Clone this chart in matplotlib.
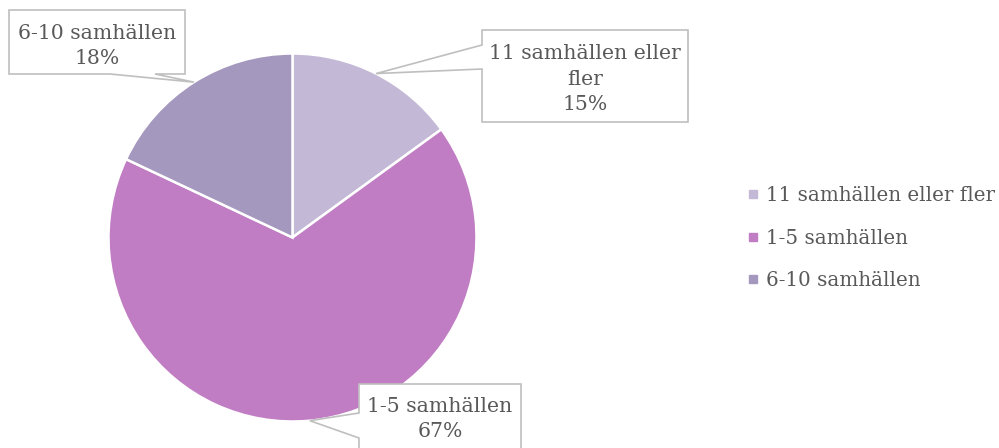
import numpy as np
import matplotlib.pyplot as plt
from matplotlib.patches import Polygon
from matplotlib.lines import Line2D

# data
categories = ['11 samhällen eller fler', '1-5 samhällen', '6-10 samhällen']
shares = [15, 67, 18]
colors = ['#c3b9d6', '#c07dc3', '#a598be']

W, H = 999, 448
CX, CY, R = 292.5, 237.5, 184
TXT = '#595959'
EDGE = '#bfbfbf'
FS = 14.7

plt.rcParams['font.family'] = ['DejaVu Serif']

fig = plt.figure(figsize=(W / 100, H / 100), dpi=100)
ax = fig.add_axes([0, 0, 1, 1])


def fy(y):
    # pixel row (from top) -> axis y
    return H - y


wedges, _ = ax.pie(shares, colors=colors, startangle=90, counterclock=False,
                   center=(CX, fy(CY)), radius=R,
                   wedgeprops=dict(edgecolor='white', linewidth=1.8))
ax.set_xlim(0, W)
ax.set_ylim(0, H)
ax.set_aspect('auto')
ax.axis('off')

# mid angle of each slice, used as callout tip on the rim
cum = np.cumsum([0] + shares)
mids = 90 - 360 * (cum[:-1] + cum[1:]) / 2 / 100
tips = [(CX + R * np.cos(np.radians(a)), CY - R * np.sin(np.radians(a))) for a in mids]

# callout boxes: (left, top, right, bottom), pointer side, pointer base span, text centre
boxes = [
    ((482, 30, 688, 122), 'left', (45, 69), (585, 79), '11 samhällen eller\nfler\n15%'),
    ((359, 384, 521, 470), 'left', (413, 438), (440, 419), '1-5 samhällen\n67%'),
    ((9, 10, 185, 74), 'bottom', (110, 155), (97, 46), '6-10 samhällen\n18%'),
]

for i, (box, side, span, tc, label) in enumerate(boxes):
    l, t, r, b = box
    tx, ty = tips[i]
    if side == 'left':
        pts = [(l, t), (r, t), (r, b), (l, b), (l, span[1]), (tx, ty), (l, span[0])]
    else:
        pts = [(l, t), (r, t), (r, b), (span[1], b), (tx, ty), (span[0], b), (l, b)]
    pts = [(x, fy(y)) for x, y in pts]
    ax.add_patch(Polygon(pts, closed=True, facecolor='white', edgecolor=EDGE,
                         linewidth=1.2, zorder=5))
    ax.text(tc[0], fy(tc[1]), label, ha='center', va='center',
            fontsize=FS, color=TXT, linespacing=1.45, zorder=6)

handles = [Line2D([], [], marker='s', linestyle='', markersize=6,
                  markerfacecolor=c, markeredgecolor=c) for c in colors]
leg = fig.legend(handles, categories, loc='center left',
                 bbox_to_anchor=(738 / W, 1 - 238 / H), frameon=False,
                 fontsize=14.3, labelcolor=TXT, handlelength=0.55,
                 handletextpad=0.35, labelspacing=1.2, borderpad=0)

fig.savefig('out.png', dpi=100)
